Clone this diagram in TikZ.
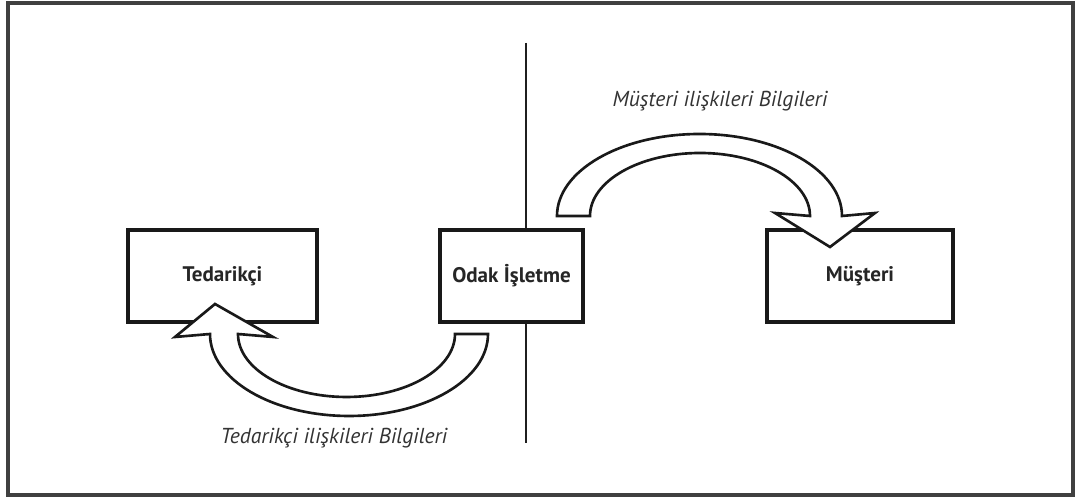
\documentclass[tikz,border=0pt]{standalone}
\usepackage{fontspec}
\setmainfont{PT Sans}
\begin{document}
\begin{tikzpicture}[x=0.02cm,y=0.02cm,
  ink/.style={draw=black!90, line width=2pt},
  entity/.style={ink, rectangle, minimum height=92*0.02cm, inner sep=0pt,
    font=\fontsize{12}{14}\selectfont\bfseries, text=black!85},
  flowlabel/.style={font=\fontsize{12.3}{14}\selectfont\itshape, text=black!80},
  bigarrow/.style={draw=black!90, line width=1.5pt, fill=white, line join=miter}]
  \useasboundingbox (0,0) rectangle (1080,499);
  % outer frame
  \draw[draw=black!75, line width=1.8pt] (8,4) rectangle (1073,496);
  % dividing line
  \coordinate (divtop) at (526,456);
  \coordinate (divbot) at (526,56);
  \draw[draw=black!88, line width=1.2pt] (divtop) -- (divbot);
  % the three parties
  \node[entity, minimum width=189*0.02cm] (ted) at (222.5,223) {Tedarikçi};
  \node[entity, minimum width=143*0.02cm, fill=white] (odak) at (511.5,223) {Odak İşletme};
  \node[entity, minimum width=186*0.02cm] (mus) at (860,223) {Müşteri};
  % information flow towards the customer
  \draw[bigarrow] (557,283) arc[start angle=180, end angle=0, x radius=142.5, y radius=82]
    -- (875,286) -- (830,252) -- (775,286) -- (810,283)
    arc[start angle=0, end angle=180, x radius=110, y radius=63] -- cycle;
  % information flow towards the supplier
  \draw[bigarrow] (488,165) arc[start angle=0, end angle=-180, x radius=139, y radius=82]
    -- (175,162) -- (215,195) -- (273,162) -- (238,165)
    arc[start angle=180, end angle=360, x radius=108.5, y radius=63] -- cycle;
  % flow labels
  \node[flowlabel] (muslbl) at (720,398) {Müşteri ilişkileri Bilgileri};
  \node[flowlabel] (tedlbl) at (334,61) {Tedarikçi ilişkileri Bilgileri};
\end{tikzpicture}
\end{document}
